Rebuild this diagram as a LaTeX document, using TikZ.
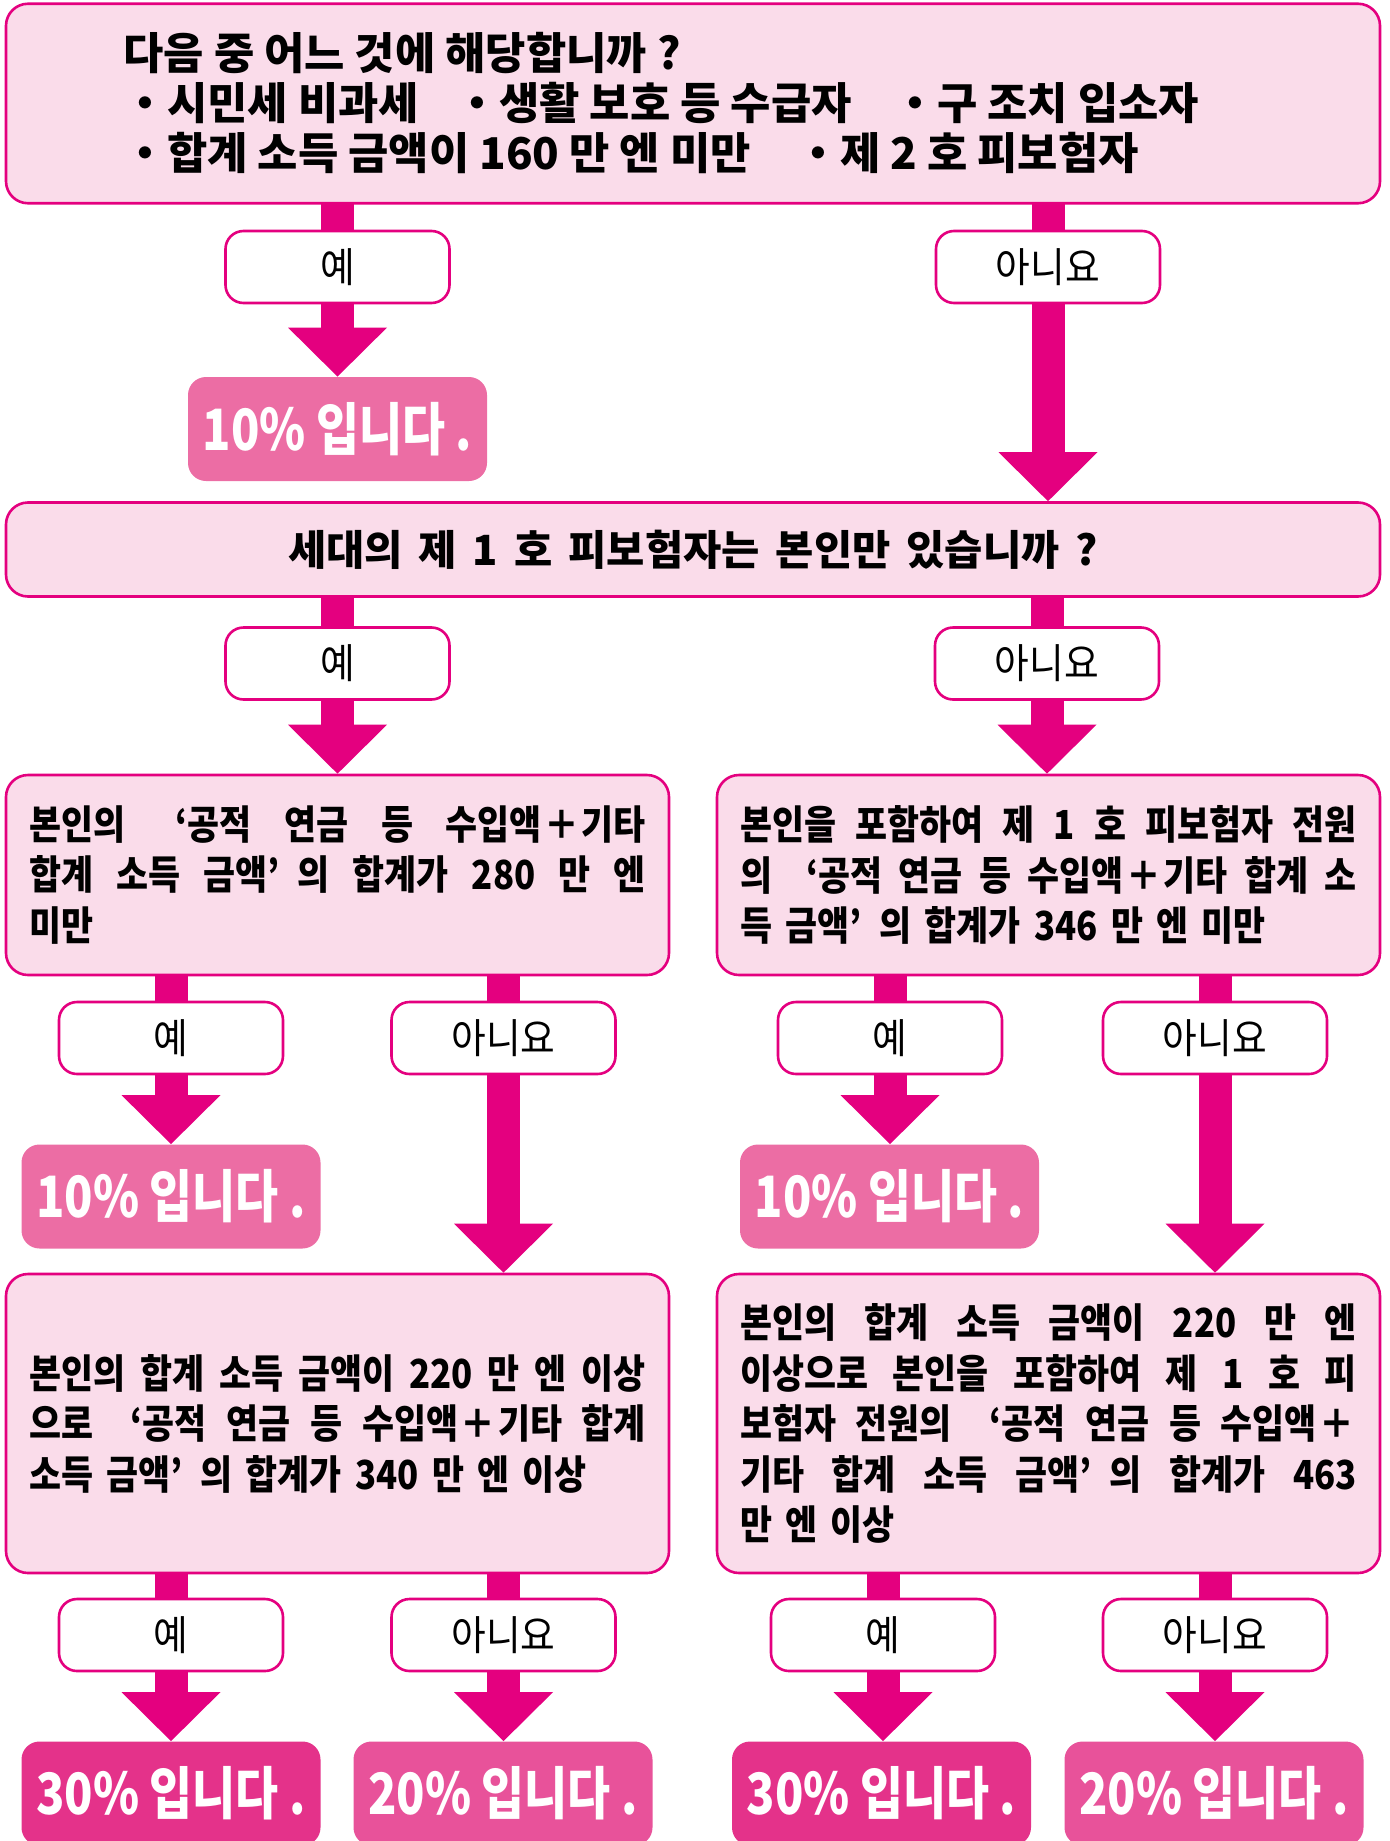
\documentclass[tikz,border=0pt]{standalone}
\usepackage{fontspec}
\newfontfamily\krfont{Noto Sans CJK KR}
\newfontfamily\krcond[FakeStretch=0.87]{Noto Sans CJK KR}
\newfontfamily\krlab[FakeStretch=0.92]{Noto Sans CJK KR}
\newfontfamily\krres[FakeStretch=0.82]{Noto Sans CJK KR}
\usetikzlibrary{calc,backgrounds}
\definecolor{mag}{HTML}{E4007F}
\definecolor{boxpink}{HTML}{FADCEA}
\definecolor{rten}{HTML}{EC6DA4}
\definecolor{rthirty}{HTML}{E4328A}
\definecolor{rtwenty}{HTML}{E8529A}
\newcommand{\flowstem}[2]{%
  \fill[mag] ($(#1)+(-8.25pt,2pt)$) rectangle ($(#2)+(8.25pt,-2pt)$);}
\newcommand{\flowarrow}[2]{%
  \fill[mag] ($(#1)+(-8.25pt,2pt)$) rectangle ($(#2)+(8.25pt,24pt)$);
  \fill[mag] ($(#2)+(-24.75pt,24.5pt)$) -- (#2) -- ($(#2)+(24.75pt,24.5pt)$) -- cycle;}
\newcommand{\jline}[1]{\makebox[308.5pt][s]{\spaceskip=0.3333em plus 1fil\relax #1}}
\newcommand{\oq}{\makebox[0.75em][r]{‘}}
\newcommand{\cq}{\makebox[0.75em][l]{’}}
\newcommand{\pl}{\makebox[1em]{＋}}
\tikzset{
  qbox/.style={draw=mag, fill=boxpink, line width=1.3pt, rounded corners=11pt, inner sep=0pt},
  bodytext/.style={text width=308.5pt, align=left, font=\krcond\bfseries\fontsize{20}{25.25}\selectfont},
  lab/.style={draw=mag, fill=white, line width=1.3pt, rounded corners=9pt,
    minimum width=112pt, minimum height=36pt, inner sep=0pt,
    font=\krlab\fontsize{20.5}{24}\selectfont},
  res/.style={rounded corners=9pt, minimum width=149.5pt, minimum height=52pt, inner sep=0pt,
    text=white, font=\krres\bfseries\fontsize{28.5}{32}\selectfont},
}
\begin{document}
\begin{tikzpicture}[x=0.5pt,y=-0.5pt]
\useasboundingbox (0,0) rectangle (1389,1841);
% question boxes
\node[qbox, minimum width=687pt, minimum height=99.75pt] (q1) at (693,103.5) {};
\node[anchor=west, align=left, inner sep=0pt, font=\krfont\bfseries\fontsize{21.9}{25}\selectfont] (q1t) at (123,103.5)
  {다음 중 어느 것에 해당합니까 ?\\
   \makebox[166pt][l]{・시민세 비과세}\makebox[219pt][l]{・생활 보호 등 수급자}・구 조치 입소자\\
   \makebox[336.5pt][l]{・합계 소득 금액이 160 만 엔 미만}・제 2 호 피보험자};
\node[qbox, minimum width=687pt, minimum height=47pt, font=\krfont\bfseries\fontsize{20.8}{25}\selectfont] (q2) at (693,549.5)
  {\makebox[405pt][s]{세대의 제 1 호 피보험자는 본인만 있습니까 ?}};
\node[qbox, bodytext, minimum width=331.5pt, minimum height=100pt] (q3l) at (337.5,875)
  {\jline{본인의 \oq 공적 연금 등 수입액\pl 기타}\\
   \jline{합계 소득 금액\cq 의 합계가 280 만 엔}\\
   미만};
\node[qbox, bodytext, minimum width=331.5pt, minimum height=100pt] (q3r) at (1048.5,875)
  {\jline{본인을 포함하여 제 1 호 피보험자 전원}\\
   \jline{의 \oq 공적 연금 등 수입액\pl 기타 합계 소}\\
   득 금액\cq 의 합계가 346 만 엔 미만};
\node[qbox, bodytext, minimum width=331.5pt, minimum height=149.5pt] (q4l) at (337.5,1423.5)
  {\jline{본인의 합계 소득 금액이 220 만 엔 이상}\\
   \jline{으로 \oq 공적 연금 등 수입액\pl 기타 합계}\\
   소득 금액\cq 의 합계가 340 만 엔 이상};
\node[qbox, bodytext, minimum width=331.5pt, minimum height=149.5pt] (q4r) at (1048.5,1423.5)
  {\jline{본인의 합계 소득 금액이 220 만 엔}\\
   \jline{이상으로 본인을 포함하여 제 1 호 피}\\
   \jline{보험자 전원의 \oq 공적 연금 등 수입액\pl}\\
   \jline{기타 합계 소득 금액\cq 의 합계가 463}\\
   만 엔 이상};
% labels
\node[lab] (y1) at (337.5,267) {예};
\node[lab] (n1) at (1048,267) {아니요};
\node[lab] (y2) at (337.5,663.5) {예};
\node[lab] (n2) at (1047,663.5) {아니요};
\node[lab] (y3l) at (171,1038) {예};
\node[lab] (n3l) at (503.5,1038) {아니요};
\node[lab] (y3r) at (890,1038) {예};
\node[lab] (n3r) at (1215,1038) {아니요};
\node[lab] (y4l) at (171,1635) {예};
\node[lab] (n4l) at (503.5,1635) {아니요};
\node[lab] (y4r) at (883,1635) {예};
\node[lab] (n4r) at (1215,1635) {아니요};
% results
\node[res, fill=rten] (r1) at (337.5,429) {10\% 입니다 .};
\node[res, fill=rten] (r2) at (171,1196.5) {10\% 입니다 .};
\node[res, fill=rten] (r3) at (889.5,1196.5) {10\% 입니다 .};
\node[res, fill=rthirty] (r4a) at (171,1793.5) {30\% 입니다 .};
\node[res, fill=rtwenty] (r4b) at (503,1793.5) {20\% 입니다 .};
\node[res, fill=rthirty] (r4c) at (881.5,1793.5) {30\% 입니다 .};
\node[res, fill=rtwenty] (r4d) at (1214,1793.5) {20\% 입니다 .};
% connectors
\begin{scope}[on background layer]
\flowstem{y1 |- q1.south}{y1.north}
\flowarrow{y1.south}{y1.south |- r1.north}
\flowstem{n1 |- q1.south}{n1.north}
\flowarrow{n1.south}{n1.south |- q2.north}
\flowstem{y2 |- q2.south}{y2.north}
\flowarrow{y2.south}{y2.south |- q3l.north}
\flowstem{n2 |- q2.south}{n2.north}
\flowarrow{n2.south}{n2.south |- q3r.north}
\flowstem{y3l |- q3l.south}{y3l.north}
\flowarrow{y3l.south}{y3l.south |- r2.north}
\flowstem{n3l |- q3l.south}{n3l.north}
\flowarrow{n3l.south}{n3l.south |- q4l.north}
\flowstem{y3r |- q3r.south}{y3r.north}
\flowarrow{y3r.south}{y3r.south |- r3.north}
\flowstem{n3r |- q3r.south}{n3r.north}
\flowarrow{n3r.south}{n3r.south |- q4r.north}
\flowstem{y4l |- q4l.south}{y4l.north}
\flowarrow{y4l.south}{y4l.south |- r4a.north}
\flowstem{n4l |- q4l.south}{n4l.north}
\flowarrow{n4l.south}{n4l.south |- r4b.north}
\flowstem{y4r |- q4r.south}{y4r.north}
\flowarrow{y4r.south}{y4r.south |- r4c.north}
\flowstem{n4r |- q4r.south}{n4r.north}
\flowarrow{n4r.south}{n4r.south |- r4d.north}
\end{scope}
\end{tikzpicture}
\end{document}
